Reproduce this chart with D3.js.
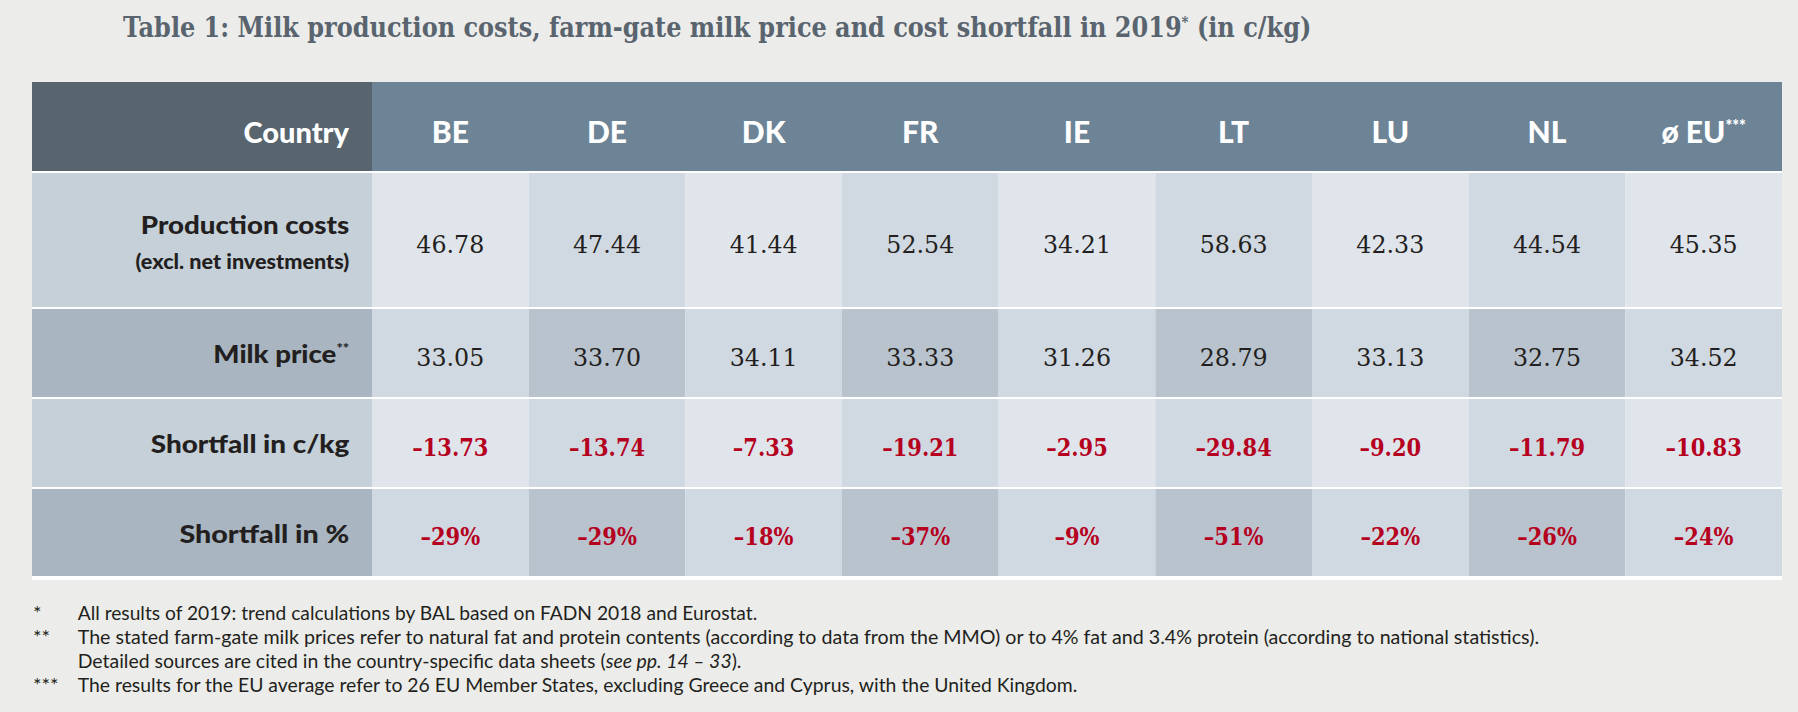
<!DOCTYPE html>
<html>
<head>
<meta charset="utf-8">
<script src="https://cdn.jsdelivr.net/npm/d3@7"></script>
<style>
  body { margin: 0; background: #ecedea; }
  svg { display: block; }
</style>
</head>
<body>
<div id="chart"></div>
<script>
// Table data (c/kg, 2019)
const countries = ['BE', 'DE', 'DK', 'FR', 'IE', 'LT', 'LU', 'NL', 'EU'];
const countryNames = ['BE', 'DE', 'DK', 'FR', 'IE', 'LT', 'LU', 'NL', 'ø EU'];
const countrySup = ['', '', '', '', '', '', '', '', '***'];
const productionCosts = [46.78, 47.44, 41.44, 52.54, 34.21, 58.63, 42.33, 44.54, 45.35];
const milkPrice = [33.05, 33.70, 34.11, 33.33, 31.26, 28.79, 33.13, 32.75, 34.52];
const shortfallCkg = [-13.73, -13.74, -7.33, -19.21, -2.95, -29.84, -9.20, -11.79, -10.83];
const shortfallPct = [-29, -29, -18, -37, -9, -51, -22, -26, -24];

const rowLabels = ['Production costs', 'Milk price', 'Shortfall in c/kg', 'Shortfall in %'];
const rowSubLabels = ['(excl. net investments)', '', '', ''];
const rowSup = ['', '**', '', ''];

const titleText = 'Table 1: Milk production costs, farm-gate milk price and cost shortfall in 2019';
const footMarks = ['*', '**', '', '***'];
const footLines = [
    ['All results of 2019: trend calculations by BAL based on FADN 2018 and Eurostat.'],
    ['The stated farm-gate milk prices refer to natural fat and protein contents (according to data from the MMO) or to 4% fat and 3.4% protein (according to national statistics).'],
    ['Detailed sources are cited in the country-specific data sheets (', 'see pp. 14 – 33', ').'],
    ['The results for the EU average refer to 26 EU Member States, excluding Greece and Cyprus, with the United Kingdom.']
];

function initializeTable() {
    const width = 1798, height = 712;
    const fmt = d3.format('.2f');
    const dash = '\u2013';
    const signed = v => (v < 0 ? dash : '') + fmt(Math.abs(v));
    const pct = v => (v < 0 ? dash : '') + Math.abs(v) + '%';

    const rows = [
        { values: productionCosts, text: signed, strong: false },
        { values: milkPrice, text: signed, strong: false },
        { values: shortfallCkg, text: signed, strong: true },
        { values: shortfallPct, text: pct, strong: true }
    ];

    const svg = d3.select('#chart')
        .append('svg')
        .attr('width', width)
        .attr('height', height);

    const tableLeft = 32, labelRight = 372, tableRight = 1782;
    const headerTop = 82, headerHeight = 89, gap = 2;
    const rowHeights = [134, 88, 88, 87];
    const labelX = 349.3;

    const x = d3.scaleBand()
        .domain(countries)
        .range([labelRight, tableRight]);

    // row tops
    const rowTops = [];
    let yy = headerTop + headerHeight + gap;
    rowHeights.forEach(h => { rowTops.push(yy); yy += h + gap; });
    const tableBottom = rowTops[3] + rowHeights[3];

    // Title
    const title = svg.append('text')
        .attr('text-anchor', 'start')
        .style('font-family', "'DejaVu Serif', serif")
        .style('font-weight', 'bold')
        .style('font-size', '27px')
        .style('fill', '#59646f');
    title.append('tspan').text(titleText);
    title.append('tspan').attr('dy', -10).style('font-size', '15px').text('*');
    title.append('tspan').attr('dy', 10).text(' (in c/kg)');
    squeeze(title, 123, 37, 1189);

    // White backing shows through as thin row separators
    svg.append('rect')
        .attr('x', tableLeft)
        .attr('y', headerTop)
        .attr('width', tableRight - tableLeft)
        .attr('height', tableBottom + 4 - headerTop)
        .attr('fill', '#ffffff');

    // Header
    svg.append('rect')
        .attr('x', tableLeft).attr('y', headerTop)
        .attr('width', labelRight - tableLeft).attr('height', headerHeight)
        .attr('fill', '#58656f');
    svg.append('rect')
        .attr('x', labelRight).attr('y', headerTop)
        .attr('width', tableRight - labelRight).attr('height', headerHeight)
        .attr('fill', '#6d8497');

    const headerBase = headerTop + 60.7;
    svg.append('text')
        .attr('x', 349)
        .attr('y', headerBase)
        .attr('text-anchor', 'end')
        .style('font-family', 'Lato, sans-serif')
        .style('font-weight', 900)
        .style('font-size', '29px')
        .style('fill', '#ffffff')
        .text('Country');

    const codes = svg.selectAll('.code')
        .data(countries)
        .enter()
        .append('text')
        .attr('class', 'code')
        .attr('x', d => x(d) + x.bandwidth() / 2)
        .attr('y', headerBase)
        .attr('text-anchor', 'middle')
        .style('font-family', 'Lato, sans-serif')
        .style('font-weight', 900)
        .style('font-size', '30px')
        .style('fill', '#ffffff');
    codes.append('tspan').text((d, i) => countryNames[i]);
    codes.append('tspan')
        .attr('dy', -11)
        .style('font-size', '16px')
        .text((d, i) => countrySup[i]);

    // Body rows
    const labelFill = ['#c5d0d9', '#a9b6c2'];
    const cellFill = [['#e0e5ec', '#d0d8e1'], ['#d0d8e1', '#b8c3ce']];
    const labelWidths = [208.6, 136, 198.6, 170];

    rows.forEach((row, r) => {
        const top = rowTops[r], h = rowHeights[r], mid = top + h / 2;
        const shade = r % 2;

        svg.append('rect')
            .attr('x', tableLeft).attr('y', top)
            .attr('width', labelRight - tableLeft).attr('height', h)
            .attr('fill', labelFill[shade]);

        const g = svg.append('g').attr('class', 'row row-' + r);

        g.selectAll('rect')
            .data(countries)
            .enter()
            .append('rect')
            .attr('x', d => x(d))
            .attr('y', top)
            .attr('width', x.bandwidth())
            .attr('height', h)
            .attr('fill', (d, i) => cellFill[shade][i % 2]);

        const k = row.strong ? 0.84 : 0.95;
        g.selectAll('text')
            .data(row.values)
            .enter()
            .append('text')
            .attr('transform', (d, i) =>
                `translate(${x(countries[i]) + x.bandwidth() / 2},${mid + 12.5}) scale(${k},1)`)
            .attr('text-anchor', 'middle')
            .style('font-family', "'DejaVu Serif', serif")
            .style('font-weight', row.strong ? 'bold' : 'normal')
            .style('font-size', '25px')
            .style('fill', row.strong ? '#b5001e' : '#231f20')
            .text(d => row.text(d));

        // Row label
        const labelBase = rowSubLabels[r] ? top + 61.3 : mid + 10.3;
        const label = svg.append('text')
            .attr('text-anchor', 'end')
            .style('font-family', 'Lato, sans-serif')
            .style('font-weight', 900)
            .style('font-size', '25.5px')
            .style('fill', '#231f20');
        label.append('tspan').text(rowLabels[r]);
        if (rowSup[r]) {
            label.append('tspan').attr('dy', -10).style('font-size', '14px').text(rowSup[r]);
        }
        squeeze(label, labelX, labelBase, labelWidths[r]);

        if (rowSubLabels[r]) {
            const sub = svg.append('text')
                .attr('text-anchor', 'end')
                .style('font-family', 'Lato, sans-serif')
                .style('font-weight', 900)
                .style('font-size', '20px')
                .style('fill', '#231f20')
                .text(rowSubLabels[r]);
            squeeze(sub, labelX, labelBase + 34.7, 214);
        }
    });

    // Footnotes, each line fitted to its width in the original
    const footTop = 620, footStep = 24.1;
    const footWidths = [680, 1462, 664, 1000];
    footLines.forEach((parts, i) => {
        const y = footTop + i * footStep;
        svg.append('text')
            .attr('x', 33)
            .attr('y', y)
            .style('font-family', 'Lato, sans-serif')
            .style('font-size', '20px')
            .style('fill', '#231f20')
            .text(footMarks[i]);
        const t = svg.append('text')
            .style('font-family', 'Lato, sans-serif')
            .style('font-size', '20px')
            .style('fill', '#231f20');
        parts.forEach((p, k) => {
            t.append('tspan')
                .style('font-style', k === 1 ? 'italic' : 'normal')
                .text(p);
        });
        squeeze(t, 77.7, y, footWidths[i]);
    });
}

// place a text at (x, y) and squeeze/stretch it horizontally to width w
function squeeze(sel, x, y, w) {
    const len = sel.node().getComputedTextLength();
    const k = len > 0 ? w / len : 1;
    sel.attr('transform', `translate(${x},${y}) scale(${k},1)`);
}

document.addEventListener('DOMContentLoaded', initializeTable);
</script>
</body>
</html>
